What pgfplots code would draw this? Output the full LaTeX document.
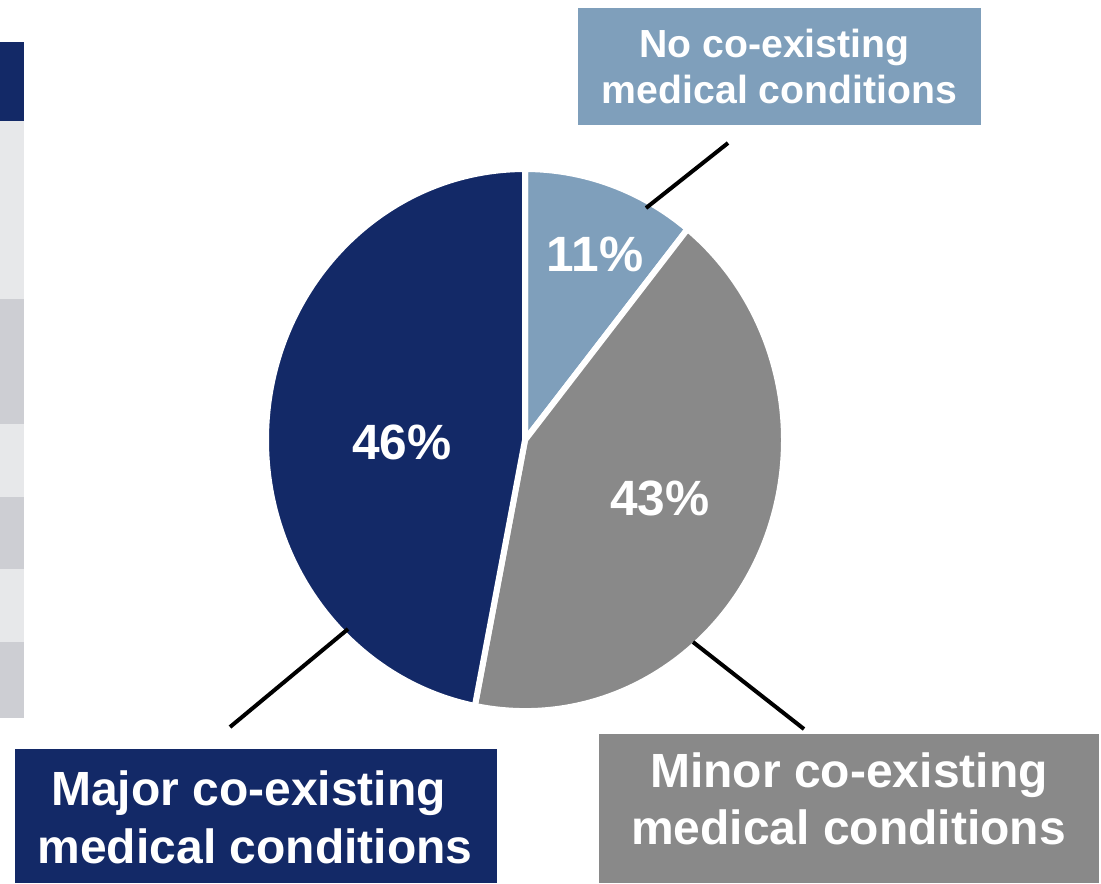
\documentclass[border=0pt]{standalone}
\usepackage{fontspec}
\setmainfont{Liberation Sans}
\usepackage{pgfplots}
\pgfplotsset{compat=1.18}
\usepackage{pgfplotstable}
\definecolor{cnavy}{RGB}{19,41,103}
\definecolor{csteel}{RGB}{127,159,187}
\definecolor{cgray}{RGB}{137,137,137}
\definecolor{clight}{RGB}{231,232,234}
\definecolor{cdark}{RGB}{205,206,211}

% shares (labels show 11, 43, 46 %)
\pgfplotstableread{
share
10.8
42.3
46.9
}\piedata

\begin{document}
\begin{tikzpicture}
\path[use as bounding box] (0,0) rectangle (275.25pt,220.75pt);
\pgfplotstablegetelem{0}{share}\of\piedata \pgfmathsetmacro{\sA}{\pgfplotsretval}
\pgfplotstablegetelem{1}{share}\of\piedata \pgfmathsetmacro{\sB}{\pgfplotsretval}
\pgfplotstablegetelem{2}{share}\of\piedata \pgfmathsetmacro{\sC}{\pgfplotsretval}
\pgfmathsetmacro{\aZero}{90}
\pgfmathsetmacro{\aOne}{90-3.6*\sA}
\pgfmathsetmacro{\aTwo}{\aOne-3.6*\sB}
\pgfmathsetmacro{\aThree}{\aTwo-3.6*\sC}
\begin{axis}[at={(0,0)}, anchor=south west, scale only axis, width=275.25pt, height=220.75pt,
  xmin=0, xmax=1101, ymin=0, ymax=883, y dir=reverse,
  hide axis, clip=false]
% left table strip
\fill[cnavy] (axis cs:0,42) rectangle (axis cs:24,121);
\fill[clight] (axis cs:0,121) rectangle (axis cs:24,299);
\fill[cdark] (axis cs:0,299) rectangle (axis cs:24,424);
\fill[clight] (axis cs:0,424) rectangle (axis cs:24,497);
\fill[cdark] (axis cs:0,497) rectangle (axis cs:24,569);
\fill[clight] (axis cs:0,569) rectangle (axis cs:24,642);
\fill[cdark] (axis cs:0,642) rectangle (axis cs:24,718);
% pie slices
\filldraw[fill=csteel, draw=white, line width=1.5pt, line join=round]
  (axis cs:525,440) -- ++(\aOne:64.75pt and 67.75pt)
  arc[start angle=\aOne, end angle=\aZero, x radius=64.75pt, y radius=67.75pt] -- cycle;
\filldraw[fill=cgray, draw=white, line width=1.5pt, line join=round]
  (axis cs:525,440) -- ++(\aTwo:64.75pt and 67.75pt)
  arc[start angle=\aTwo, end angle=\aOne, x radius=64.75pt, y radius=67.75pt] -- cycle;
\filldraw[fill=cnavy, draw=white, line width=1.5pt, line join=round]
  (axis cs:525,440) -- ++(\aThree:64.75pt and 67.75pt)
  arc[start angle=\aThree, end angle=\aTwo, x radius=64.75pt, y radius=67.75pt] -- cycle;
% percent labels
\node[anchor=base, text=white, font=\fontsize{12.4pt}{14pt}\selectfont\bfseries, inner sep=0pt] at (axis cs:595,271) {11\%};
\node[anchor=base, text=white, font=\fontsize{12.4pt}{14pt}\selectfont\bfseries, inner sep=0pt] at (axis cs:660,515) {43\%};
\node[anchor=base, text=white, font=\fontsize{12.4pt}{14pt}\selectfont\bfseries, inner sep=0pt] at (axis cs:402,459) {46\%};
% leader lines
\draw[black, line width=1pt] (axis cs:728,143) -- (axis cs:646,208);
\draw[black, line width=1pt] (axis cs:348,629) -- (axis cs:230,727);
\draw[black, line width=1pt] (axis cs:693,642) -- (axis cs:804,729);
% label boxes
\fill[csteel] (axis cs:578,8) rectangle (axis cs:981,125);
\fill[cnavy] (axis cs:15,749) rectangle (axis cs:497,883);
\fill[cgray] (axis cs:599,734) rectangle (axis cs:1099,883);
\node[anchor=base, text=white, font=\fontsize{9.8pt}{12pt}\selectfont\bfseries, inner sep=0pt] at (axis cs:774.5,57) {No co-existing};
\node[anchor=base, text=white, font=\fontsize{9.8pt}{12pt}\selectfont\bfseries, inner sep=0pt] at (axis cs:779.5,103) {medical conditions};
\node[anchor=base, text=white, font=\fontsize{12pt}{14pt}\selectfont\bfseries, inner sep=0pt] at (axis cs:248.5,805) {Major co-existing};
\node[anchor=base, text=white, font=\fontsize{12pt}{14pt}\selectfont\bfseries, inner sep=0pt] at (axis cs:255,863) {medical conditions};
\node[anchor=base, text=white, font=\fontsize{12pt}{14pt}\selectfont\bfseries, inner sep=0pt] at (axis cs:849,787) {Minor co-existing};
\node[anchor=base, text=white, font=\fontsize{12pt}{14pt}\selectfont\bfseries, inner sep=0pt] at (axis cs:848.5,844) {medical conditions};
\end{axis}
\end{tikzpicture}
\end{document}
